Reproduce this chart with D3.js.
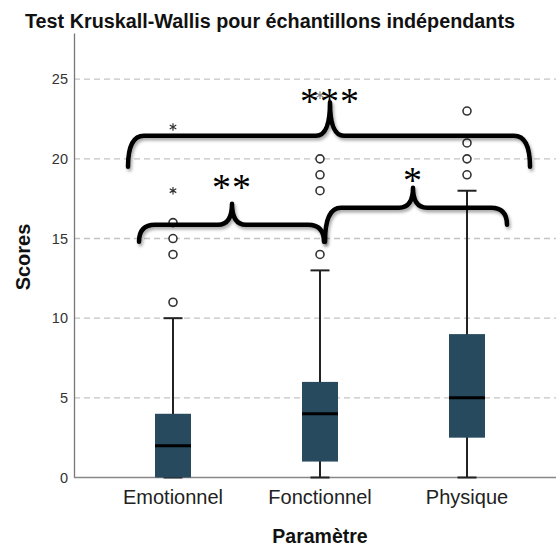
<!DOCTYPE html>
<html>
  <head>
    <meta charset="utf-8">
    <title>Kruskal-Wallis</title>
    <style>
      body { margin: 0; background: #fff; }
      svg { display: block; font-family: "Liberation Sans", Arial, sans-serif; }
      .grid line { stroke: #c4c4c4; stroke-width: 1.3; stroke-dasharray: 6,4; }
      .box { fill: #284a5f; }
      .whisker { stroke: #222; stroke-width: 2; }
      .median { stroke: #000; stroke-width: 3; }
      .outlier { fill: #fff; stroke: #333; stroke-width: 1.6; }
      .extreme { fill: #333; }
      .brace { fill: none; stroke: #000; stroke-width: 4.5; stroke-linecap: round; stroke-linejoin: round; }
      .stars { font-family: "Liberation Serif", "Times New Roman", serif; fill: #000; }
    </style>
    <script src="https://d3js.org/d3.v7.min.js"></script>
  </head>
  <body>
    <svg id="chart" width="556" height="548"></svg>
    <script>
      // data
      var categories = ["Emotionnel", "Fonctionnel", "Physique"];
      var q1 = [0, 1, 2.5];
      var medians = [2, 4, 5];
      var q3 = [4, 6, 9];
      var whiskerLow = [0, 0, 0];
      var whiskerHigh = [10, 13, 18];
      var outliers = [[11, 14, 15, 16], [14, 18, 19, 20], [19, 20, 21, 23]];
      var extremes = [[18, 22], [24], []];
      var yTicks = [0, 5, 10, 15, 20, 25];

      // pairwise comparisons: level = y of the brace bar (score units)
      var comparisons = [
        { from: 0, to: 1, label: "**", level: 15.86, tip: 17.18, endL: 14.79, endR: 14.79, text: 18.5 },
        { from: 1, to: 2, label: "*", level: 16.93, tip: 18.18, endL: 14.79, endR: 15.86, text: 18.9 },
        { from: 0, to: 2, label: "***", level: 21.45, tip: 23.54, endL: 19.5, endR: 19.5, text: 23.9 }
      ];
      // horizontal offsets of brace ends relative to the box centres (px)
      var braceDx = [[-34, 4, 59], [5, 40, 93], [-45, 63, 157]];

      var svg = d3.select("#chart");
      var left = 74, bottom = 477.5;

      var x = d3.scaleBand().domain(categories).range([99.5, 540.5]);
      var y = d3.scaleLinear().domain([0, 27.9]).range([bottom, 33]);
      var cx = function(i) { return x(categories[i]) + x.bandwidth() / 2; };

      var defs = svg.append("defs");
      var f = defs.append("filter").attr("id", "shadow")
        .attr("x", "-10%").attr("y", "-30%").attr("width", "120%").attr("height", "180%");
      f.append("feDropShadow").attr("dx", 1.5).attr("dy", 2.5)
        .attr("stdDeviation", 1.8).attr("flood-color", "#000").attr("flood-opacity", 0.35);

      // grid
      svg.append("g").attr("class", "grid")
        .selectAll("line").data(yTicks.filter(function(d) { return d > 0; }))
        .enter().append("line")
        .attr("x1", left).attr("x2", 556)
        .attr("y1", function(d) { return y(d); })
        .attr("y2", function(d) { return y(d); });

      // y axis
      var yAxis = d3.axisLeft(y).tickValues(yTicks).tickSize(0).tickPadding(6);
      var gy = svg.append("g").attr("transform", "translate(" + left + ",0)").call(yAxis);
      gy.select(".domain").attr("stroke", "#777").attr("stroke-width", 1.3);
      gy.selectAll("text").attr("font-size", 14.5).attr("fill", "#333")
        .attr("font-family", "Liberation Sans, Arial, sans-serif");

      // x axis
      var xAxis = d3.axisBottom(x).tickSize(0).tickPadding(12);
      var gx = svg.append("g").attr("transform", "translate(0," + bottom + ")").call(xAxis);
      gx.select(".domain").remove();
      gx.selectAll("text").attr("font-size", 20).attr("fill", "#222")
        .attr("font-family", "Liberation Sans, Arial, sans-serif");
      svg.append("line").attr("x1", left).attr("x2", 556)
        .attr("y1", bottom).attr("y2", bottom)
        .attr("stroke", "#888").attr("stroke-width", 1.5);

      // boxes
      var idx = categories.map(function(d, i) { return i; });
      var bw = 36, cap = 19;
      var g = svg.append("g");
      idx.forEach(function(i) {
        var c = cx(i);
        g.append("line").attr("class", "whisker")
          .attr("x1", c).attr("x2", c).attr("y1", y(whiskerHigh[i])).attr("y2", y(whiskerLow[i]));
        g.append("line").attr("class", "whisker")
          .attr("x1", c - cap / 2).attr("x2", c + cap / 2)
          .attr("y1", y(whiskerHigh[i])).attr("y2", y(whiskerHigh[i]));
        g.append("line").attr("class", "whisker")
          .attr("x1", c - cap / 2).attr("x2", c + cap / 2)
          .attr("y1", y(whiskerLow[i])).attr("y2", y(whiskerLow[i]));
        g.append("rect").attr("class", "box")
          .attr("x", c - bw / 2).attr("width", bw)
          .attr("y", y(q3[i])).attr("height", y(q1[i]) - y(q3[i]));
        g.append("line").attr("class", "median")
          .attr("x1", c - bw / 2).attr("x2", c + bw / 2)
          .attr("y1", y(medians[i])).attr("y2", y(medians[i]));
        g.selectAll(null).data(outliers[i]).enter().append("circle")
          .attr("class", "outlier").attr("cx", c)
          .attr("cy", function(d) { return y(d); }).attr("r", 4);
        g.selectAll(null).data(extremes[i]).enter().append("path")
          .attr("class", "extreme")
          .attr("d", d3.symbol(d3.symbolAsterisk, 40))
          .attr("stroke", i == 1 ? "#888" : "#333").attr("stroke-width", 1.2)
          .attr("transform", function(d) { return "translate(" + c + "," + y(d) + ")"; });
      });

      // braces
      function bracePath(x0, x1, xm, yl, yt, yL, yR) {
        var r = 16, r2 = 14;
        return "M" + x0 + "," + yL +
          "Q" + x0 + "," + yl + " " + (x0 + r) + "," + yl +
          "L" + (xm - r2) + "," + yl +
          "Q" + xm + "," + yl + " " + xm + "," + yt +
          "Q" + xm + "," + yl + " " + (xm + r2) + "," + yl +
          "L" + (x1 - r) + "," + yl +
          "Q" + x1 + "," + yl + " " + x1 + "," + yR;
      }
      var gb = svg.append("g");
      comparisons.forEach(function(d, k) {
        var x0 = cx(d.from) + braceDx[k][0];
        var x1 = cx(d.to) + braceDx[k][1];
        var xm = cx(d.from) + braceDx[k][2];
        gb.append("path").attr("class", "brace").attr("filter", "url(#shadow)")
          .attr("d", bracePath(x0, x1, xm, y(d.level), y(d.tip), y(d.endL), y(d.endR)));
        gb.append("text").attr("class", "stars")
          .attr("x", xm).attr("y", y(d.text) + 17)
          .attr("text-anchor", "middle").attr("font-size", 38)
          .attr("letter-spacing", 1)
          .text(d.label);
      });

      // titles
      svg.append("text").attr("x", 270).attr("y", 28).attr("text-anchor", "middle")
        .attr("font-size", 19.5).attr("font-weight", "bold").attr("fill", "#111")
        .attr("textLength", 490).attr("lengthAdjust", "spacingAndGlyphs")
        .text("Test Kruskall-Wallis pour échantillons indépendants");
      svg.append("text").attr("transform", "translate(30,257) rotate(-90)")
        .attr("text-anchor", "middle").attr("font-size", 20).attr("font-weight", "bold").attr("fill", "#111")
        .text("Scores");
      svg.append("text").attr("x", 320).attr("y", 543).attr("text-anchor", "middle")
        .attr("font-size", 19.5).attr("font-weight", "bold").attr("fill", "#111")
        .text("Paramètre");
    </script>
  </body>
</html>
